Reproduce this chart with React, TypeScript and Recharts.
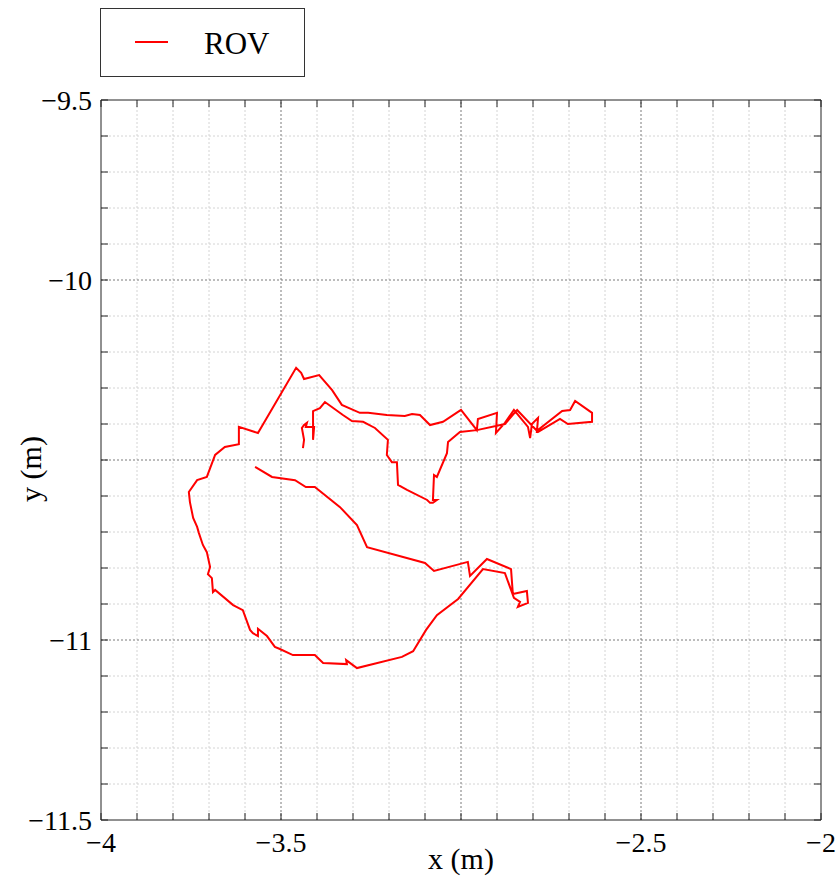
import React from 'react';
import { LineChart, Line, XAxis, YAxis, ReferenceLine, Label } from 'recharts';

const seriesName = 'ROV';
const xAxisTitle = 'x (m)';
const yAxisTitle = 'y (m)';

const trackX = [
  -3.572, -3.525, -3.461, -3.431, -3.406, -3.336, -3.289, -3.261, -3.100, -3.075,
  -2.981, -2.975, -2.928, -2.861, -2.856, -2.817, -2.814, -2.842, -2.836, -2.853,
  -2.878, -2.939, -3.008, -3.067, -3.097, -3.133, -3.164, -3.289, -3.319, -3.317,
  -3.383, -3.406, -3.467, -3.503, -3.517, -3.539, -3.564, -3.564, -3.578, -3.586,
  -3.606, -3.633, -3.683, -3.689, -3.692, -3.703, -3.697, -3.706, -3.717, -3.728,
  -3.733, -3.744, -3.753, -3.756, -3.733, -3.706, -3.683, -3.656, -3.617, -3.617,
  -3.564, -3.458, -3.444, -3.436, -3.394, -3.358, -3.331, -3.281, -3.258, -3.206,
  -3.156, -3.136, -3.114, -3.086, -3.050, -3.000, -2.956, -2.953, -2.900, -2.903,
  -2.878, -2.853, -2.814, -2.808, -2.803, -2.786, -2.789, -2.719, -2.697, -2.683,
  -2.636, -2.636, -2.703, -2.725, -2.786, -2.844, -2.878, -2.956, -3.003, -3.036,
  -3.039, -3.067, -3.075, -3.078, -3.067, -3.078, -3.086, -3.094, -3.150, -3.175,
  -3.178, -3.192, -3.206, -3.203, -3.239, -3.272, -3.303, -3.328, -3.378, -3.392,
  -3.411, -3.411, -3.408, -3.431, -3.428, -3.436, -3.442, -3.436, -3.439,
];

const trackY = [
  -10.519, -10.547, -10.556, -10.575, -10.575, -10.631, -10.681, -10.742, -10.786, -10.808,
  -10.783, -10.822, -10.775, -10.803, -10.872, -10.864, -10.897, -10.908, -10.894, -10.883,
  -10.814, -10.803, -10.886, -10.931, -10.972, -11.031, -11.047, -11.078, -11.056, -11.067,
  -11.064, -11.042, -11.042, -11.025, -11.019, -10.989, -10.969, -10.989, -10.981, -10.972,
  -10.917, -10.903, -10.861, -10.867, -10.828, -10.817, -10.797, -10.756, -10.736, -10.703,
  -10.686, -10.661, -10.617, -10.589, -10.556, -10.547, -10.486, -10.464, -10.456, -10.408,
  -10.425, -10.244, -10.258, -10.275, -10.264, -10.306, -10.347, -10.369, -10.369, -10.375,
  -10.378, -10.372, -10.375, -10.403, -10.394, -10.361, -10.417, -10.386, -10.369, -10.425,
  -10.397, -10.361, -10.408, -10.439, -10.400, -10.383, -10.419, -10.364, -10.361, -10.336,
  -10.369, -10.394, -10.400, -10.386, -10.422, -10.361, -10.400, -10.417, -10.422, -10.450,
  -10.481, -10.547, -10.542, -10.611, -10.611, -10.619, -10.619, -10.611, -10.583, -10.569,
  -10.506, -10.506, -10.486, -10.444, -10.411, -10.394, -10.392, -10.375, -10.339, -10.356,
  -10.364, -10.444, -10.408, -10.408, -10.397, -10.403, -10.411, -10.444, -10.467,
];

const xTicks = [
  -4, -3.9, -3.8, -3.7, -3.6, -3.5, -3.4, -3.3, -3.2, -3.1, -3,
  -2.9, -2.8, -2.7, -2.6, -2.5, -2.4, -2.3, -2.2, -2.1, -2,
];
const yTicks = [
  -11.5, -11.4, -11.3, -11.2, -11.1, -11, -10.9, -10.8, -10.7, -10.6, -10.5,
  -10.4, -10.3, -10.2, -10.1, -10, -9.9, -9.8, -9.7, -9.6, -9.5,
];
const xLabelTicks = [-4, -3.5, -2.5, -2];
const yLabelTicks = [-11.5, -11, -10, -9.5];
const xMajorGrid = [-3.5, -3, -2.5];
const yMajorGrid = [-11, -10.5, -10];

const xDomain: [number, number] = [-4, -2];
const yDomain: [number, number] = [-11.5, -9.5];

const FONT = '"Liberation Serif", "Times New Roman", Times, serif';
const TICK_FONT = 28;
const has = (arr: number[], v: number) => arr.some((a) => Math.abs(a - v) < 1e-6);
const fmt = (v: number) => (v < 0 ? '\u2212' : '') + String(Math.abs(v));

const data = trackX.map((x, i) => ({ x, y: trackY[i] }));
const xMinorGrid = xTicks.filter((v) => !has(xMajorGrid, v) && !has(xDomain, v));
const yMinorGrid = yTicks.filter((v) => !has(yMajorGrid, v) && !has(yDomain, v));

const TICK_LEN = 7;

const BottomTick = (props: any) => {
  const { x, y, payload } = props;
  const v = payload.value;
  return (
    <g>
      <line x1={x} y1={y} x2={x} y2={y - TICK_LEN} stroke="#222" strokeWidth={1} />
      {has(xLabelTicks, v) && (
        <text x={x} y={y + 32} textAnchor="middle" fontFamily={FONT} fontSize={TICK_FONT} fill="#000">
          {fmt(v)}
        </text>
      )}
    </g>
  );
};

const TopTick = (props: any) => {
  const { x, y } = props;
  return <line x1={x} y1={y} x2={x} y2={y + TICK_LEN} stroke="#222" strokeWidth={1} />;
};

const LeftTick = (props: any) => {
  const { x, y, payload } = props;
  const v = payload.value;
  return (
    <g>
      <line x1={x} y1={y} x2={x + TICK_LEN} y2={y} stroke="#222" strokeWidth={1} />
      {has(yLabelTicks, v) && (
        <text x={x - 9} y={y + 10} textAnchor="end" fontFamily={FONT} fontSize={TICK_FONT} fill="#000">
          {fmt(v)}
        </text>
      )}
    </g>
  );
};

const RightTick = (props: any) => {
  const { x, y } = props;
  return <line x1={x} y1={y} x2={x - TICK_LEN} y2={y} stroke="#222" strokeWidth={1} />;
};

const XTitle = (props: any) => {
  const vb = props.viewBox || { x: 93, y: 812, width: 720, height: 59 };
  return (
    <text x={vb.x + vb.width / 2} y={vb.y + 49} textAnchor="middle" fontFamily={FONT} fontSize={30} fill="#000">
      {xAxisTitle}
    </text>
  );
};

const YTitle = (props: any) => {
  const vb = props.viewBox || { x: 0, y: 92, width: 93, height: 720 };
  const cx = vb.x + 22;
  const cy = vb.y + vb.height / 2 + 9;
  return (
    <text
      x={cx}
      y={cy}
      transform={`rotate(-90 ${cx} ${cy})`}
      textAnchor="middle"
      dominantBaseline="central"
      fontFamily={FONT}
      fontSize={30}
      fill="#000"
    >
      {yAxisTitle}
    </text>
  );
};

export default function App() {
  return (
    <div style={{ padding: '8px 0 0 8px', width: 830, height: 871 }}>
      <style>{'body{margin:0}'}</style>
      <div style={{ position: 'relative', width: 830, height: 871 }}>
        <LineChart
          width={830}
          height={871}
          data={data}
          margin={{ top: 90, right: 15, bottom: 0, left: 0 }}
        >
          <XAxis
            type="number"
            dataKey="x"
            domain={xDomain}
            ticks={xTicks}
            interval={0}
            allowDataOverflow
            height={59}
            tickSize={0}
            tickMargin={0}
            tickLine={false}
            axisLine={{ stroke: '#222', strokeWidth: 1 }}
            tick={BottomTick}
          >
            <Label content={XTitle} />
          </XAxis>
          <XAxis
            xAxisId="top"
            orientation="top"
            type="number"
            dataKey="x"
            domain={xDomain}
            ticks={xTicks}
            interval={0}
            allowDataOverflow
            height={2}
            tickSize={0}
            tickMargin={0}
            tickLine={false}
            axisLine={{ stroke: '#222', strokeWidth: 1 }}
            tick={TopTick}
          />
          <YAxis
            type="number"
            domain={yDomain}
            ticks={yTicks}
            interval={0}
            allowDataOverflow
            width={93}
            tickSize={0}
            tickMargin={0}
            tickLine={false}
            axisLine={{ stroke: '#222', strokeWidth: 1 }}
            tick={LeftTick}
          >
            <Label content={YTitle} />
          </YAxis>
          <YAxis
            yAxisId="right"
            orientation="right"
            type="number"
            domain={yDomain}
            ticks={yTicks}
            interval={0}
            allowDataOverflow
            width={2}
            tickSize={0}
            tickMargin={0}
            tickLine={false}
            axisLine={{ stroke: '#222', strokeWidth: 1 }}
            tick={RightTick}
          />
          {xMinorGrid.map((v) => (
            <ReferenceLine key={`xm${v}`} x={v} stroke="#d4d4d4" strokeWidth={1} strokeDasharray="2 2" />
          ))}
          {yMinorGrid.map((v) => (
            <ReferenceLine key={`ym${v}`} y={v} stroke="#d4d4d4" strokeWidth={1} strokeDasharray="2 2" />
          ))}
          {xMajorGrid.map((v) => (
            <ReferenceLine key={`xM${v}`} x={v} stroke="#7a7a7a" strokeWidth={1} strokeDasharray="2 2" />
          ))}
          {yMajorGrid.map((v) => (
            <ReferenceLine key={`yM${v}`} y={v} stroke="#7a7a7a" strokeWidth={1} strokeDasharray="2 2" />
          ))}
          <Line
            type="linear"
            dataKey="y"
            name={seriesName}
            stroke="#ff0000"
            strokeWidth={2}
            dot={false}
            activeDot={false}
            isAnimationActive={false}
          />
        </LineChart>
        <div
          style={{
            position: 'absolute',
            left: 92,
            top: 0,
            width: 203,
            height: 67,
            border: '1px solid #333',
            background: '#fff',
          }}
        >
          <svg width={203} height={67} style={{ display: 'block' }}>
            <line x1={34} y1={33} x2={67} y2={33} stroke="#ff0000" strokeWidth={1.8} />
            <text x={103} y={45} fontFamily={FONT} fontSize={31} fill="#000">
              {seriesName}
            </text>
          </svg>
        </div>
      </div>
    </div>
  );
}
